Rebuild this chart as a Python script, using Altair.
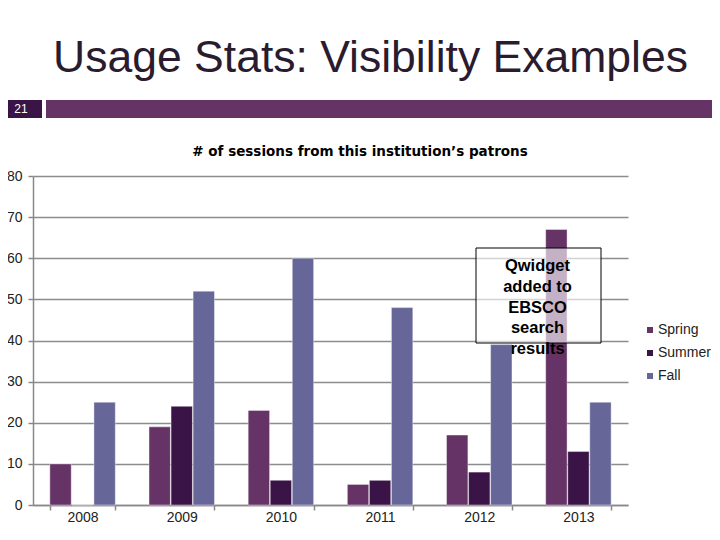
import altair as alt
import pandas as pd

years = ["2008", "2009", "2010", "2011", "2012", "2013"]
seasons = ["Spring", "Summer", "Fall"]
spring = [10, 19, 23, 5, 17, 67]
summer = [0, 24, 6, 6, 8, 13]
fall = [25, 52, 60, 48, 39, 25]
colors = ["#663366", "#3a1446", "#666699"]
y_ticks = [0, 10, 20, 30, 40, 50, 60, 70, 80]
note_lines = ["Qwidget", "added to", "EBSCO", "search", "results"]

rows = []
for i, yr in enumerate(years):
    for s, vals in zip(seasons, [spring, summer, fall]):
        rows.append({"year": yr, "season": s, "value": vals[i]})
df = pd.DataFrame(rows)

W, H = 595, 329
FONT = "Liberation Sans"

bars = alt.Chart(df).mark_bar(stroke="white", strokeWidth=0.4).encode(
    x=alt.X("year:N", sort=years, title=None,
            scale=alt.Scale(paddingInner=0.34, paddingOuter=0.17),
            axis=alt.Axis(labelAngle=0, tickBand="extent", tickSize=5,
                          labelPadding=0, labelFontSize=14, labelFont=FONT,
                          labelColor="#222222", domainColor="#888888",
                          domainWidth=1.5, tickColor="#888888", tickWidth=1.5,
                          grid=False)),
    xOffset=alt.XOffset("season:N", sort=seasons,
                        scale=alt.Scale(paddingInner=0.03)),
    y=alt.Y("value:Q", title=None,
            scale=alt.Scale(domain=[0, 80], nice=False),
            axis=alt.Axis(values=y_ticks, tickSize=5, labelPadding=6,
                          labelFontSize=14, labelFont=FONT, labelColor="#222222",
                          domainColor="#888888", domainWidth=1.5,
                          tickColor="#888888", tickWidth=1.5,
                          gridColor="#8c8c8c", gridWidth=1.5, gridOpacity=1)),
    color=alt.Color("season:N", sort=seasons,
                    scale=alt.Scale(domain=seasons, range=colors),
                    legend=alt.Legend(orient="none", legendX=610, legendY=147,
                                      padding=0, title=None,
                                      symbolType="square",
                                      symbolSize=36, symbolStrokeWidth=0,
                                      labelFontSize=14, labelFont=FONT,
                                      labelColor="#222222", labelOffset=1,
                                      rowPadding=9)),
)

one = pd.DataFrame({"a": [0]})
base = alt.Chart(one)

box = base.mark_rect(fill="white", fillOpacity=0.62, stroke="black",
                     strokeWidth=1).encode(
    x=alt.value(443), x2=alt.value(568), y=alt.value(72), y2=alt.value(167))

note = base.mark_text(fontSize=16.5, font=FONT, fontWeight="bold",
                      color="black", align="center",
                      baseline="alphabetic", lineHeight=20.8).encode(
    x=alt.value(504.5), y=alt.value(95), text=alt.value(note_lines))

title = base.mark_text(fontSize=44.5, font=FONT, color="#2a1b2e",
                       align="center", baseline="alphabetic").encode(
    x=alt.value(337.5), y=alt.value(-104),
    text=alt.value("Usage Stats: Visibility Examples"))

subtitle = base.mark_text(fontSize=13.5, font="DejaVu Sans", fontWeight="bold",
                          color="black", align="center",
                          baseline="middle").encode(
    x=alt.value(327), y=alt.value(-24),
    text=alt.value("# of sessions from this institution\u2019s patrons"))

bar_band = base.mark_rect(color="#663366").encode(
    x=alt.value(13), x2=alt.value(690), y=alt.value(-76), y2=alt.value(-58))
num_box = base.mark_rect(color="#3a1446").encode(
    x=alt.value(-33), x2=alt.value(9), y=alt.value(-76), y2=alt.value(-58))
num_text = base.mark_text(fontSize=12, font=FONT, color="white",
                          align="center", baseline="middle").encode(
    x=alt.value(-12), y=alt.value(-67), text=alt.value("21"))

chart = alt.layer(bars, box, note, title, subtitle, bar_band, num_box,
                  num_text).properties(
    width=W, height=H,
    padding={"left": 25, "top": 168, "right": 84, "bottom": 19},
    autosize=alt.AutoSizeParams(type="none"),
    background="white",
).configure_view(stroke=None)

chart.save("out.html", embed_options={"renderer": "svg", "actions": False})
